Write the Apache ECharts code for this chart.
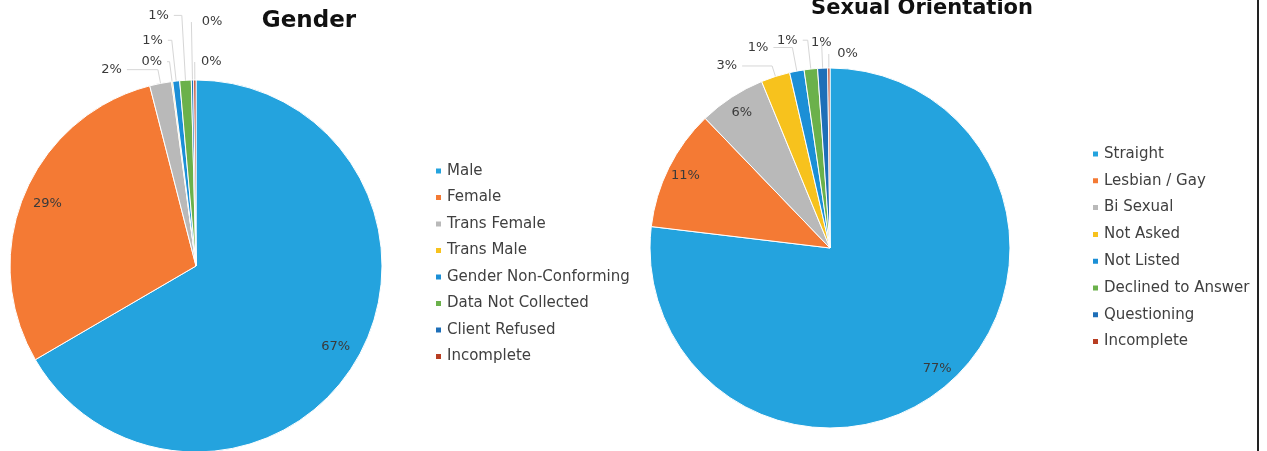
<!DOCTYPE html>
<html><head><meta charset="utf-8">
<script src="https://cdn.jsdelivr.net/npm/echarts@6/dist/echarts.min.js"></script>
<style>html,body{margin:0;padding:0;background:#fff}#c{width:1267px;height:451px}</style>
</head><body><div id="c"></div>
<script>
// ---- data ----
const genderCats = ['Male','Female','Trans Female','Trans Male','Gender Non-Conforming','Data Not Collected','Client Refused','Incomplete'];
const genderVals = [66.6, 29.4, 1.9, 0.1, 0.6, 1.0, 0.2, 0.2];
const orientCats = ['Straight','Lesbian / Gay','Bi Sexual','Not Asked','Not Listed','Declined to Answer','Questioning','Incomplete'];
const orientVals = [76.9, 10.9, 6.0, 2.6, 1.3, 1.2, 0.9, 0.2];

// ---- styles ----
const palette = ['#24A3DE','#F47A34','#B9B9B9','#F7C21D','#1B8FD6','#6BB14B','#1E6FB8','#B83E22'];
const insideThreshold = 5;
// leader line [length, length2, horizontal label nudge] for the small outside labels
const genderLeaders = [null, null, [14, 31, 0], [20, 2.5, 0], [41, 4, 0], [65, 8, 0], [58, 0, 36], [18, 0, 32]];
const orientLeaders = [null, null, null, [11, 30, 0], [24, 19, 0], [29, 5, 0], [26, 0, 15], [14, 0, 34]];

const FONT = 'DejaVu Sans';
const fmt = p => Math.round(p.percent) + '%';

function outerSeries(cats, vals, center, r, leaders) {
  return {
    type: 'pie', center: center, radius: [0, r], startAngle: 90, clockwise: true,
    avoidLabelOverlap: false,
    itemStyle: { borderColor: '#fff', borderWidth: 1 },
    data: cats.map((n, i) => {
      const small = vals[i] < insideThreshold;
      const L = leaders[i];
      return {
        name: n, value: vals[i], itemStyle: { color: palette[i] },
        label: { show: small },
        labelLine: small && L ? { show: true, length: L[0], length2: L[1] } : { show: false }
      };
    }),
    label: { position: 'outside', formatter: fmt, color: '#3A3A3A', fontFamily: FONT, fontSize: 13, distanceToLabelLine: 5 },
    labelLine: { lineStyle: { color: '#D6D6D6', width: 1 } },
    labelLayout: function (p) {
      const L = leaders[p.dataIndex];
      return L && L[2] ? { dx: L[2] } : {};
    },
    emphasis: { disabled: true }
  };
}
function innerLabelSeries(cats, vals, center, r, r0) {
  return {
    type: 'pie', center: center, radius: [r0, r], startAngle: 90, clockwise: true, silent: true,
    itemStyle: { color: 'rgba(0,0,0,0)' },
    data: cats.map((n, i) => ({ name: n, value: vals[i], label: { show: vals[i] >= insideThreshold } })),
    label: { position: 'inside', formatter: fmt, color: '#3A3A3A', fontFamily: FONT, fontSize: 13 },
    labelLine: { show: false },
    emphasis: { disabled: true }, tooltip: { show: false }
  };
}

const chart = echarts.init(document.getElementById('c'), null, { renderer: 'canvas' });
chart.setOption({
  backgroundColor: '#fff',
  animation: false,
  title: [
    { text: 'Gender', left: 304, top: 5, textAlign: 'center', textStyle: { fontFamily: FONT, fontWeight: 'bold', fontSize: 23, color: '#111' } },
    { text: 'Sexual Orientation', left: 917, top: -7, textAlign: 'center', textStyle: { fontFamily: FONT, fontWeight: 'bold', fontSize: 21, color: '#111' } }
  ],
  legend: [
    { orient: 'vertical', left: 434, top: 163, padding: 0, icon: 'rect', itemWidth: 7, itemHeight: 7, itemGap: 10.5,
      data: genderCats, textStyle: { fontFamily: FONT, fontSize: 15, color: '#404040', lineHeight: 16 }, selectedMode: false },
    { orient: 'vertical', left: 1091, top: 146, padding: 0, icon: 'rect', itemWidth: 7, itemHeight: 7, itemGap: 10.8,
      data: orientCats, textStyle: { fontFamily: FONT, fontSize: 15, color: '#404040', lineHeight: 16 }, selectedMode: false }
  ],
  graphic: [
    { type: 'line', shape: { x1: 1258, y1: 0, x2: 1258, y2: 451 }, style: { stroke: '#222', lineWidth: 2 } }
  ],
  series: [
    outerSeries(genderCats, genderVals, [196, 266], 186, genderLeaders),
    innerLabelSeries(genderCats, genderVals, [196, 266], 186, 130),
    outerSeries(orientCats, orientVals, [830, 248], 180, orientLeaders),
    innerLabelSeries(orientCats, orientVals, [830, 248], 180, 137)
  ]
});
</script></body></html>
